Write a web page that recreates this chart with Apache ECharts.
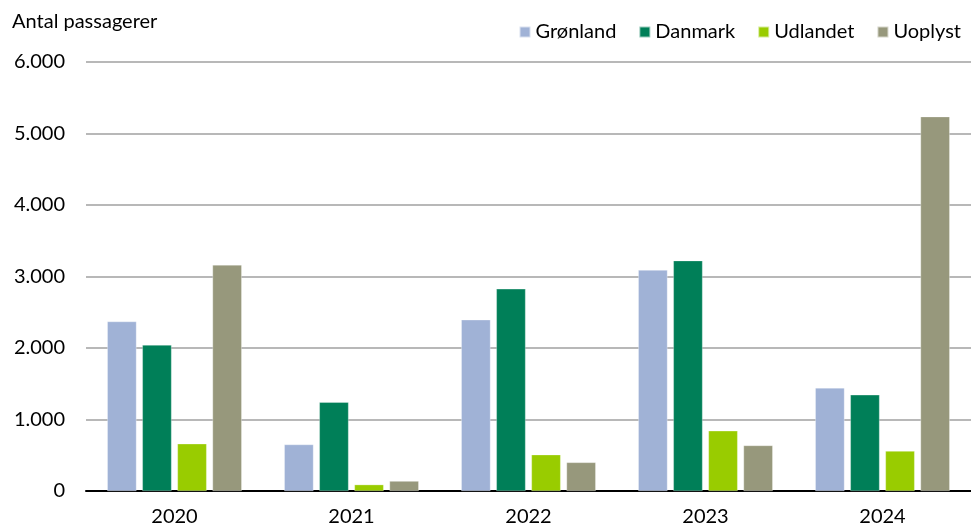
<!DOCTYPE html>
<html>
<head>
<meta charset="utf-8">
<script src="https://cdn.jsdelivr.net/npm/echarts@6/dist/echarts.min.js"></script>
<style>
html,body{margin:0;padding:0;background:#fff;}
#c{width:971px;height:527px;}
</style>
</head>
<body>
<div id="c"></div>
<script>
const years = ['2020', '2021', '2022', '2023', '2024'];
const seriesNames = ['Grønland', 'Danmark', 'Udlandet', 'Uoplyst'];
const gronland = [2370, 650, 2395, 3090, 1442];
const danmark = [2042, 1241, 2827, 3222, 1345];
const udlandet = [661, 89, 508, 842, 558];
const uoplyst = [3162, 139, 400, 637, 5236];
const yTicks = [0, 1000, 2000, 3000, 4000, 5000, 6000];
const colors = ['#A0B2D6', '#007F58', '#99CC00', '#97987C'];

const font = 'Lato, "Open Sans", "Liberation Sans", sans-serif';
const chart = echarts.init(document.getElementById('c'));
const values = [gronland, danmark, udlandet, uoplyst];
chart.setOption({
  animation: false,
  textStyle: { fontFamily: font },
  title: {
    text: 'Antal passagerer', left: 7, top: 7,
    textStyle: { fontSize: 20, fontWeight: 'normal', color: '#000', fontFamily: font }
  },
  legend: {
    right: 5, top: 17, itemWidth: 11, itemHeight: 11, itemGap: 22,
    icon: 'rect',
    textStyle: { fontSize: 20, color: '#000', fontFamily: font },
    data: seriesNames
  },
  grid: { left: 86, top: 62, bottom: 36, width: 894, containLabel: false },
  xAxis: {
    type: 'category', data: years,
    axisLine: { lineStyle: { color: '#000', width: 2 } },
    axisTick: { show: false },
    axisLabel: { fontSize: 20, color: '#000', margin: 16, fontFamily: font }
  },
  yAxis: {
    type: 'value', min: yTicks[0], max: yTicks[yTicks.length - 1], interval: 1000,
    axisLine: { show: false }, axisTick: { show: false },
    splitLine: { lineStyle: { color: '#A0A0A0', width: 1.5 } },
    axisLabel: {
      fontSize: 20, color: '#000', margin: 21, fontFamily: font,
      formatter: v => v === 0 ? '0' : v.toString().replace(/\B(?=(\d{3})+(?!\d))/g, '.')
    }
  },
  series: seriesNames.map((n, i) => ({
    name: n, type: 'bar', data: values[i],
    itemStyle: { color: colors[i], borderColor: 'rgba(255,255,255,0.6)', borderWidth: 0.5 },
    barGap: '20%', barCategoryGap: '24%'
  }))
});
</script>
</body>
</html>
